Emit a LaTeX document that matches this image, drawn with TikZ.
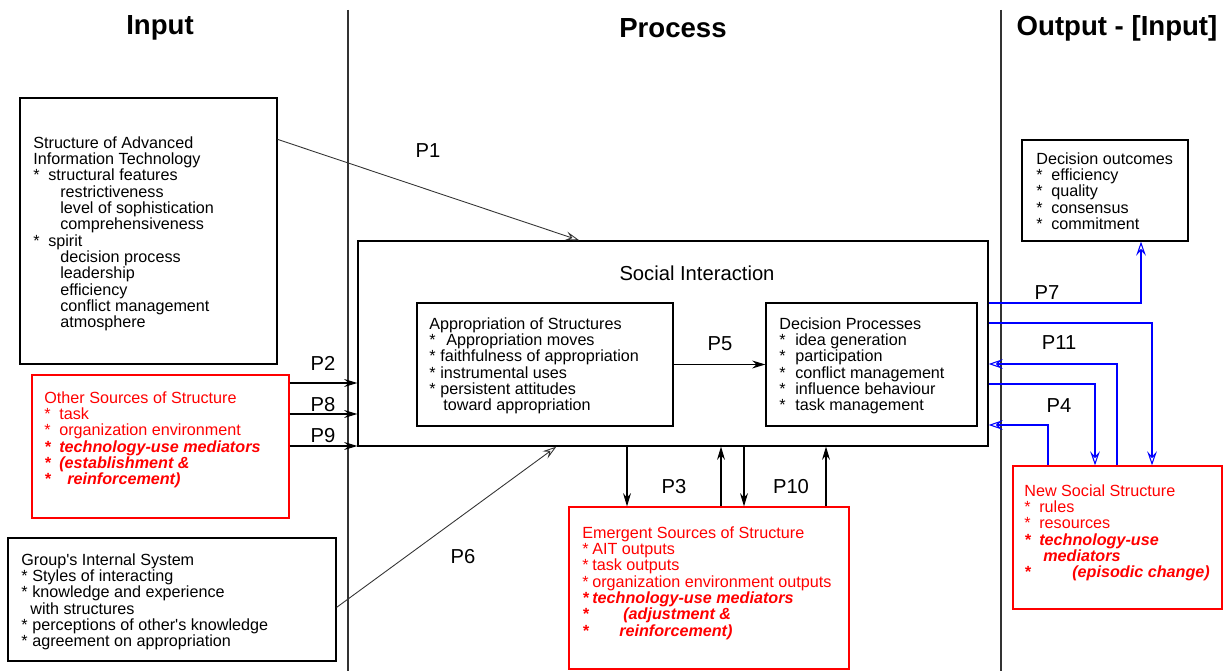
\documentclass[tikz,border=0pt]{standalone}
\usepackage{fontspec}
\setmainfont{Liberation Sans}
\usepackage{tikz}
\usetikzlibrary{arrows.meta,calc,fit,positioning}

\newlength{\pxl}
\setlength{\pxl}{0.56906pt}
\newcommand{\bul}[1]{\makebox[#1\pxl][l]{*}}
\newcommand{\ind}[1]{\hspace*{#1\pxl}}

\begin{document}
\begin{tikzpicture}[x=0.02cm,y=-0.02cm,
    box/.style={draw,line width=0.7pt,inner sep=0pt},
    redbox/.style={box,draw=red},
    txt/.style={anchor=north west,inner sep=0pt,align=left,
        font={\fontsize{9.2}{9.3}\selectfont\lineskiplimit=-20pt}},
    redtxt/.style={txt,text=red},
    head/.style={font={\fontsize{15.7}{18}\selectfont\bfseries},inner sep=0pt},
    plab/.style={font={\fontsize{11.5}{13}\selectfont},inner sep=0pt},
    arr/.style={line width=0.6pt,-{Stealth[length=7.5pt,width=4.5pt]}},
    openarr/.style={line width=0.5pt,black!80,-{Stealth[open,length=8pt,width=5pt,inset=3pt]}},
    bluearr/.style={line width=0.6pt,blue,-{Stealth[open,length=8pt,width=5.5pt,inset=3pt]}}]

    \useasboundingbox (0,0) rectangle (1226,671);

    % columns
    \draw[line width=0.7pt,black!80] (348,10) -- (348,671);
    \draw[line width=0.7pt,black!80] (1001,10) -- (1001,671);
    \node[head] (hin) at (160,28) {Input};
    \node[head] (hpro) at (673,28) {Process};
    \node[head] (hout) at (1117,28) {Output - [Input]};

    % boxes
    \node[box,fit={(20,98) (277,364)}] (ait) {};
    \node[redbox,fit={(32,375) (289,518)}] (oth) {};
    \node[box,fit={(8,538) (336,661)}] (grp) {};
    \node[box,fit={(358,241) (988,446)}] (si) {};
    \node[box,fit={(417,303) (673,426)}] (app) {};
    \node[box,fit={(766,303) (977,426)}] (dec) {};
    \node[redbox,fit={(569,507) (849,669)}] (emg) {};
    \node[box,fit={(1022,140) (1188,241)}] (out) {};
    \node[redbox,fit={(1013,466) (1222,609)}] (nss) {};

    % box texts
    \node[txt] (aittxt) at (33,136) {Structure of Advanced\\
        Information Technology\\
        \bul{15}structural features\\
        \ind{27}restrictiveness\\
        \ind{27}level of sophistication\\
        \ind{27}comprehensiveness\\
        \bul{15}spirit\\
        \ind{27}decision process\\
        \ind{27}leadership\\
        \ind{27}efficiency\\
        \ind{27}conflict management\\
        \ind{27}atmosphere};
    \node[redtxt] (othtxt) at (44,391) {Other Sources of Structure\\
        \bul{15}task\\
        \bul{15}organization environment\\
        \textbf{\textit{\bul{15}technology-use mediators}}\\
        \textbf{\textit{\bul{15}(establishment \&}}\\
        \textbf{\textit{\bul{23}reinforcement)}}};
    \node[txt] (grptxt) at (21,553) {Group\textquotesingle s Internal System\\
        \bul{11}Styles of interacting\\
        \bul{11}knowledge and experience\\
        \ind{9}with structures\\
        \bul{11}perceptions of other\textquotesingle s knowledge\\
        \bul{11}agreement on appropriation};
    \node[plab] (sitxt) at (697,273) {Social Interaction};
    \node[txt] (apptxt) at (429,317) {Appropriation of Structures\\
        \bul{17}Appropriation moves\\
        \bul{11}faithfulness of appropriation\\
        \bul{11}instrumental uses\\
        \bul{11}persistent attitudes\\
        \ind{14}toward appropriation};
    \node[txt] (dectxt) at (779,317) {Decision Processes\\
        \bul{16}idea generation\\
        \bul{16}participation\\
        \bul{16}conflict management\\
        \bul{16}influence behaviour\\
        \bul{16}task management};
    \node[redtxt] (emgtxt) at (582,526) {Emergent Sources of Structure\\
        \bul{10}AIT outputs\\
        \bul{10}task outputs\\
        \bul{10}organization environment outputs\\
        \textbf{\textit{\bul{10}technology-use mediators}}\\
        \textbf{\textit{\bul{41}(adjustment \&}}\\
        \textbf{\textit{\bul{37}reinforcement)}}};
    \node[txt] (outtxt) at (1036,152) {Decision outcomes\\
        \bul{15}efficiency\\
        \bul{15}quality\\
        \bul{15}consensus\\
        \bul{15}commitment};
    \node[redtxt] (nsstxt) at (1024,484) {New Social Structure\\
        \bul{15}rules\\
        \bul{15}resources\\
        \textbf{\textit{\bul{15}technology-use}}\\
        \textbf{\textit{\ind{19}mediators}}\\
        \textbf{\textit{\bul{48}(episodic change)}}};

    % propositions
    \draw[openarr] ($(ait.north east)+(0,42)$) -- ($(si.north west)+(222,0)$);
    \draw[arr] (oth.east |- 0,383) -- (si.west |- 0,383);
    \draw[arr] (oth.east |- 0,414) -- (si.west |- 0,414);
    \draw[arr] (oth.east |- 0,446) -- (si.west |- 0,446);
    \draw[openarr] ($(grp.north east)+(0,70)$) -- ($(si.south west)+(199,0)$);
    \draw[arr] (app.east) -- (dec.west);
    \draw[arr] (si.south -| 627,0) -- (emg.north -| 627,0);
    \draw[arr] (emg.north -| 721,0) -- (si.south -| 721,0);
    \draw[arr] (si.south -| 744,0) -- (emg.north -| 744,0);
    \draw[arr] (emg.north -| 826,0) -- (si.south -| 826,0);
    \draw[bluearr] (si.east |- 0,303) -| (out.south -| 1141,0);
    \draw[bluearr] (si.east |- 0,323) -| (nss.north -| 1152,0);
    \draw[bluearr] (nss.north -| 1117,0) |- (si.east |- 0,364);
    \draw[bluearr] (si.east |- 0,384) -| (nss.north -| 1095,0);
    \draw[bluearr] (nss.north -| 1048,0) |- (si.east |- 0,425);

    \node[plab] (p1) at (428,151) {P1};
    \node[plab] (p2) at (323,363) {P2};
    \node[plab] (p8) at (323,405) {P8};
    \node[plab] (p9) at (323,436) {P9};
    \node[plab] (p5) at (720,344) {P5};
    \node[plab] (p6) at (463,557) {P6};
    \node[plab] (p3) at (674,487) {P3};
    \node[plab] (p10) at (791,487) {P10};
    \node[plab] (p7) at (1047,293) {P7};
    \node[plab] (p11) at (1059,343) {P11};
    \node[plab] (p4) at (1059,406) {P4};
\end{tikzpicture}
\end{document}
